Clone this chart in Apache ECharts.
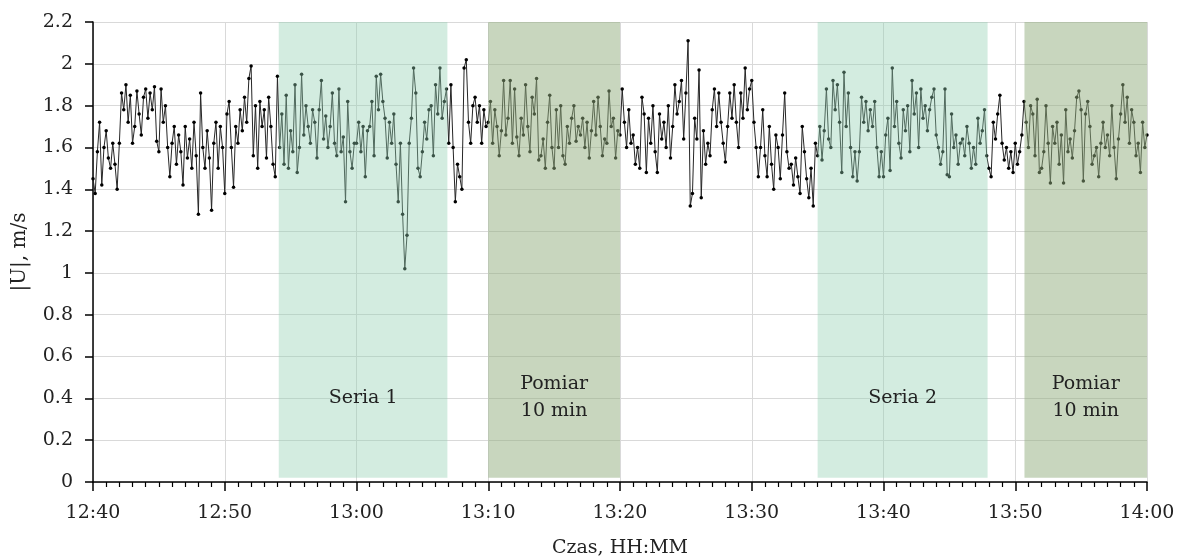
<!DOCTYPE html>
<html><head><meta charset="utf-8">
<script src="https://cdn.jsdelivr.net/npm/echarts@6/dist/echarts.min.js"></script>
<style>html,body{margin:0;padding:0;background:#fff}#c{width:1179px;height:559px}</style>
</head><body><div id="c"></div>
<script>
// x-axis tick labels (every 10 minutes from 12:40)
const tickLabels = ['12:40','12:50','13:00','13:10','13:20','13:30','13:40','13:50','14:00'];
// |U| samples, one every 10 s, grouped by 10-minute block
const u1240 = [1.45,1.38,1.58,1.72,1.42,1.6, 1.68,1.55,1.5,1.62,1.52,1.4, 1.62,1.86,1.78,1.9,1.72,1.85, 1.62,1.7,1.87,1.76,1.66,1.84, 1.88,1.74,1.86,1.78,1.89,1.63,
  1.58,1.88,1.72,1.8,1.6,1.46, 1.62,1.7,1.52,1.66,1.58,1.42, 1.7,1.55,1.64,1.5,1.72,1.56, 1.28,1.86,1.6,1.5,1.68,1.55, 1.3,1.62,1.72,1.5,1.7,1.6];
const u1250 = [1.38,1.76,1.82,1.6,1.41,1.7, 1.62,1.78,1.68,1.84,1.72,1.93, 1.99,1.56,1.8,1.5,1.82,1.7, 1.78,1.55,1.84,1.7,1.52,1.46, 1.94,1.6,1.76,1.52,1.85,1.5,
  1.68,1.58,1.9,1.48,1.6,1.95, 1.66,1.8,1.7,1.62,1.78,1.72, 1.55,1.78,1.92,1.64,1.75,1.6, 1.7,1.86,1.62,1.56,1.88,1.58, 1.65,1.34,1.82,1.58,1.5,1.62];
const u1300 = [1.62,1.72,1.58,1.7,1.46,1.68, 1.7,1.82,1.56,1.94,1.78,1.95, 1.82,1.74,1.55,1.72,1.62,1.76, 1.52,1.34,1.62,1.28,1.02,1.18, 1.62,1.74,1.98,1.86,1.5,1.46,
  1.58,1.72,1.64,1.78,1.8,1.56, 1.9,1.76,1.98,1.74,1.82,1.88, 1.62,1.9,1.6,1.34,1.52,1.46, 1.4,1.98,2.02,1.72,1.62,1.8, 1.84,1.72,1.8,1.62,1.78,1.7];
const u1310 = [1.72,1.82,1.62,1.78,1.7,1.56, 1.68,1.92,1.66,1.74,1.92,1.62, 1.88,1.65,1.56,1.74,1.66,1.9, 1.7,1.58,1.84,1.76,1.93,1.54, 1.56,1.64,1.5,1.72,1.85,1.6,
  1.5,1.78,1.6,1.8,1.56,1.52, 1.7,1.62,1.74,1.8,1.63,1.7, 1.66,1.74,1.6,1.72,1.55,1.68, 1.82,1.66,1.84,1.7,1.56,1.64, 1.62,1.87,1.7,1.74,1.55,1.68];
const u1320 = [1.66,1.88,1.72,1.6,1.78,1.62, 1.66,1.52,1.6,1.5,1.84,1.76, 1.48,1.74,1.62,1.8,1.58,1.48, 1.76,1.64,1.72,1.6,1.8,1.55, 1.7,1.9,1.76,1.82,1.92,1.64,
  1.86,2.11,1.32,1.38,1.74,1.64, 1.97,1.36,1.68,1.52,1.62,1.56, 1.78,1.88,1.7,1.86,1.72,1.62, 1.53,1.7,1.86,1.74,1.9,1.72, 1.6,1.86,1.74,1.98,1.78,1.88];
const u1330 = [1.92,1.72,1.6,1.46,1.6,1.78, 1.56,1.46,1.7,1.52,1.4,1.66, 1.6,1.45,1.66,1.86,1.58,1.5, 1.52,1.42,1.55,1.46,1.38,1.7, 1.58,1.45,1.36,1.5,1.32,1.62,
  1.56,1.7,1.54,1.68,1.88,1.64, 1.6,1.92,1.78,1.9,1.72,1.48, 1.96,1.7,1.86,1.6,1.46,1.58, 1.44,1.58,1.84,1.72,1.82,1.68, 1.78,1.7,1.82,1.6,1.46,1.58];
const u1340 = [1.46,1.66,1.74,1.49,1.98,1.7, 1.82,1.62,1.55,1.78,1.68,1.8, 1.58,1.92,1.76,1.86,1.6,1.88, 1.74,1.8,1.68,1.78,1.84,1.88, 1.66,1.6,1.52,1.58,1.88,1.47,
  1.46,1.76,1.6,1.66,1.52,1.62, 1.64,1.56,1.7,1.62,1.5,1.6, 1.52,1.74,1.62,1.68,1.78,1.56, 1.5,1.46,1.72,1.64,1.76,1.85, 1.62,1.54,1.6,1.5,1.58,1.48];
const u1350 = [1.62,1.52,1.58,1.66,1.82,1.72, 1.6,1.8,1.76,1.56,1.83,1.48, 1.5,1.58,1.8,1.62,1.43,1.7, 1.62,1.72,1.52,1.66,1.43,1.78, 1.58,1.64,1.55,1.68,1.84,1.87,
  1.78,1.44,1.76,1.82,1.7,1.52, 1.56,1.6,1.46,1.62,1.72,1.6, 1.66,1.56,1.8,1.6,1.45,1.64, 1.76,1.9,1.72,1.84,1.62,1.78, 1.72,1.56,1.62,1.48,1.72,1.6, 1.66];
const sampleSeconds = 10;
// shaded periods, in minutes after 12:40
const areaNames = ['Seria 1', 'Pomiar\n10 min', 'Seria 2', 'Pomiar\n10 min'];
const areaStart = [14.1, 30.0, 55.0, 70.7];
const areaEnd   = [26.9, 40.0, 67.9, 80.6];
const areaColors = ['rgba(145,207,177,0.4)', 'rgba(145,173,125,0.5)', 'rgba(145,207,177,0.4)', 'rgba(145,173,125,0.5)'];

const values = [].concat(u1240, u1250, u1300, u1310, u1320, u1330, u1340, u1350);
const seriesData = values.map((v, i) => [i * sampleSeconds / 60, v]);
const FONT = 'DejaVu Serif';

const chart = echarts.init(document.getElementById('c'), null, {renderer: 'canvas'});
chart.setOption({
  animation: false,
  backgroundColor: '#fff',
  grid: {left: 93, right: 32, top: 22, bottom: 77, outerBoundsMode: 'none', containLabel: false},
  xAxis: {
    type: 'value', min: 0, max: 80, interval: 10,
    name: 'Czas, HH:MM', nameLocation: 'middle', nameGap: 57,
    nameTextStyle: {fontFamily: FONT, fontSize: 19, color: '#222'},
    axisLine: {onZero: false, lineStyle: {color: '#000', width: 1.5}},
    axisTick: {show: true, length: 9, lineStyle: {color: '#000', width: 1.5}},
    minorTick: {show: true, splitNumber: 10, length: 5, lineStyle: {color: '#000', width: 1.2}},
    splitLine: {show: true, lineStyle: {color: '#d9d9d9', width: 1}},
    axisLabel: {formatter: v => tickLabels[Math.round(v / 10)], margin: 22, fontSize: 19, color: '#222', fontFamily: FONT}
  },
  yAxis: {
    type: 'value', min: 0, max: 2.2, interval: 0.2,
    name: '|U|, m/s', nameLocation: 'middle', nameGap: 63, nameRotate: 90,
    nameTextStyle: {fontFamily: FONT, fontSize: 20, color: '#222'},
    axisLine: {show: true, lineStyle: {color: '#000', width: 1.5}},
    axisTick: {show: true, length: 8, lineStyle: {color: '#000', width: 1.5}},
    splitLine: {show: true, lineStyle: {color: '#d9d9d9', width: 1}},
    axisLabel: {formatter: v => String(+v.toFixed(1)), margin: 20, fontSize: 19, color: '#222', fontFamily: FONT}
  },
  series: [
    {
      type: 'line', z: 2, data: seriesData,
      symbol: 'circle', symbolSize: 3.5, showSymbol: true, showAllSymbol: true,
      lineStyle: {color: '#262626', width: 1},
      itemStyle: {color: '#000'}
    },
    {
      type: 'line', z: 5, data: [], clip: false,
      markArea: {
        silent: true, z: 5,
        data: areaNames.map((n, i) => [
          {name: n, xAxis: areaStart[i], yAxis: 0.02, itemStyle: {color: areaColors[i]},
           label: {show: true, position: ['50%', '82.5%'], align: 'center', verticalAlign: 'middle',
                   fontFamily: FONT, fontSize: 19, color: '#222', lineHeight: 27}},
          {xAxis: areaEnd[i], yAxis: 2.2}
        ])
      }
    }
  ]
});
</script></body></html>
